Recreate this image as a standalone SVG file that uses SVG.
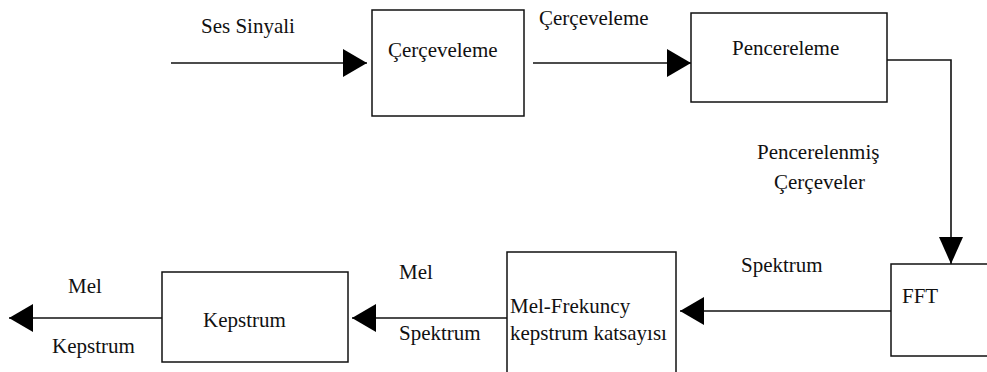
<svg xmlns="http://www.w3.org/2000/svg" width="987" height="372" viewBox="0 0 987 372">
<style>
.box{fill:#fff;stroke:#111;stroke-width:1.5}
.t{fill:#111}
.c{fill:none;stroke:#111;stroke-width:1.6}
</style>
<defs>
<marker id="ah" markerUnits="userSpaceOnUse" markerWidth="24" markerHeight="28" refX="24" refY="14" orient="auto" viewBox="0 0 24 28">
<path d="M0,0 L24,14 L0,28 z" fill="#000"/>
</marker>
<marker id="av" markerUnits="userSpaceOnUse" markerWidth="27" markerHeight="24" refX="27" refY="12" orient="auto" viewBox="0 0 27 24">
<path d="M0,0 L27,12 L0,24 z" fill="#000"/>
</marker>
</defs>
<rect width="987" height="372" fill="#fff"/>
<g id="connectors">
<line class="c" x1="171" y1="63" x2="367" y2="63" marker-end="url(#ah)"/>
<line class="c" x1="533" y1="63" x2="691" y2="63" marker-end="url(#ah)"/>
<polyline class="c" points="887,60 951,60 951,264" marker-end="url(#av)"/>
<line class="c" x1="891" y1="311" x2="680" y2="311" marker-end="url(#ah)"/>
<line class="c" x1="507" y1="318" x2="352" y2="318" marker-end="url(#ah)"/>
<line class="c" x1="162" y1="318" x2="9" y2="318" marker-end="url(#ah)"/>
<text class="t" font-family="Liberation Serif" font-size="21" x="201" y="33">Ses Sinyali</text>
<text class="t" font-family="Liberation Serif" font-size="21" x="539" y="25">Çerçeveleme</text>
<text class="t" font-family="Liberation Serif" font-size="21" x="757" y="159">Pencerelenmiş</text>
<text class="t" font-family="Liberation Serif" font-size="21" x="774" y="189">Çerçeveler</text>
<text class="t" font-family="Liberation Serif" font-size="21" x="741" y="272">Spektrum</text>
<text class="t" font-family="Liberation Serif" font-size="21" x="399" y="279">Mel</text>
<text class="t" font-family="Liberation Serif" font-size="21" x="399" y="340">Spektrum</text>
<text class="t" font-family="Liberation Serif" font-size="21" x="68" y="293">Mel</text>
<text class="t" font-family="Liberation Serif" font-size="21" x="52" y="353">Kepstrum</text>
</g>
<g id="cerceveleme">
<rect class="box" x="372" y="10" width="152" height="106"/>
<text class="t" font-family="Liberation Serif" font-size="21" x="388" y="57">Çerçeveleme</text>
</g>
<g id="pencereleme">
<rect class="box" x="691" y="13" width="196" height="89"/>
<text class="t" font-family="Liberation Serif" font-size="21" x="732" y="55">Pencereleme</text>
</g>
<g id="fft">
<rect class="box" x="891" y="264" width="110" height="92"/>
<text class="t" font-family="Liberation Serif" font-size="21" x="902" y="303">FFT</text>
</g>
<g id="mfcc">
<rect class="box" x="507" y="252" width="169" height="130"/>
<text class="t" font-family="Liberation Serif" font-size="21" x="510" y="313">Mel-Frekuncy</text>
<text class="t" font-family="Liberation Serif" font-size="21" x="510" y="340">kepstrum katsayısı</text>
</g>
<g id="kepstrum">
<rect class="box" x="162" y="272" width="186" height="90"/>
<text class="t" font-family="Liberation Serif" font-size="21" x="203" y="327">Kepstrum</text>
</g>
</svg>
